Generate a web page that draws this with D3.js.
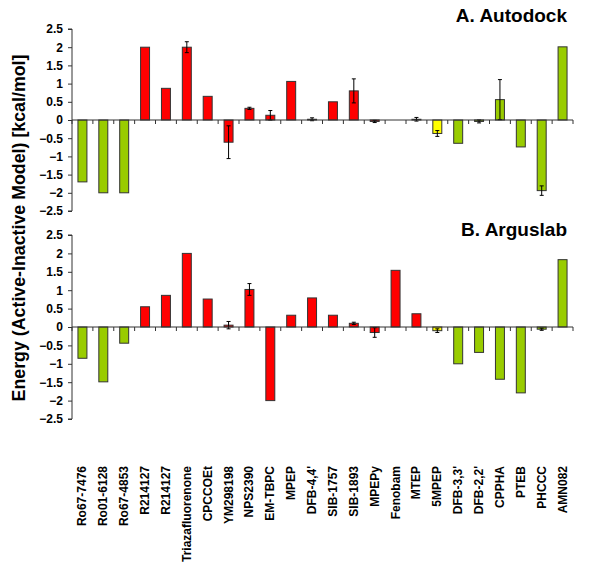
<!DOCTYPE html>
<html><head><meta charset="utf-8">
<script src="https://cdn.jsdelivr.net/npm/d3@7"></script>
<style>body{margin:0;background:#fff}svg{display:block}text{font-family:Arial,"Liberation Sans",sans-serif}</style>
</head><body>
<svg id="c" width="600" height="585"></svg>
<script>
const categories = ["Ro67-7476","Ro01-6128","Ro67-4853","R214127","R214127","Triazafluorenone","CPCCOEt","YM298198","NPS2390","EM-TBPC","MPEP","DFB-4,4'","SIB-1757","SIB-1893","MPEPy","Fenobam","MTEP","5MPEP","DFB-3,3'","DFB-2,2'","CPPHA","PTEB","PHCCC","AMN082"];
const autodock    = [-1.70,-2.0,-2.0,2.0,0.87,2.0,0.65,-0.61,0.32,0.13,1.06,0.02,0.50,0.80,-0.04,0,0.02,-0.37,-0.64,-0.04,0.56,-0.74,-1.94,2.01];
const autodockErr = [0,0,0,0,0,0.15,0,0.45,0.03,0.13,0,0.04,0,0.33,0.03,0,0.05,0.08,0,0.04,0.55,0,0.13,0];
const arguslab    = [-0.85,-1.49,-0.44,0.55,0.86,2.0,0.76,0.05,1.02,-2.0,0.32,0.79,0.32,0.10,-0.15,1.54,0.36,-0.10,-1.0,-0.69,-1.42,-1.79,-0.06,1.83];
const arguslabErr = [0,0,0,0,0,0,0,0.10,0.16,0,0,0,0,0.03,0.13,0,0,0.05,0,0,0,0,0.03,0];
const groups = ["g","g","g","r","r","r","r","r","r","r","r","r","r","r","r","r","r","y","g","g","g","g","g","g"];
const yTicks = [2.5,2,1.5,1,0.5,0,-0.5,-1,-1.5,-2,-2.5];
const colorMap = {g:"#99cc00", r:"#ff0000", y:"#ffff00"};

const svg = d3.select("#c");
const x = d3.scaleBand().domain(d3.range(categories.length)).range([72,573]).padding(0);
const barW = x.bandwidth()*0.43;

function panel(vals, errs, yRange, title, titleY){
  const y = d3.scaleLinear().domain([-2.5,2.5]).range(yRange);
  const g = svg.append("g");
  const ya = g.append("g").attr("transform","translate(72,0)")
    .call(d3.axisLeft(y).tickValues(yTicks).tickSize(4).tickPadding(5).tickFormat(d3.format("")));
  ya.select(".domain").attr("stroke","#333").attr("d",`M-4,${y(2.5)}H0V${y(-2.5)}H-4`);
  ya.selectAll(".tick line").attr("stroke","#333");
  ya.selectAll(".tick text").attr("font-size",12).attr("font-weight","bold").attr("fill","#000")
    .attr("font-family",'Arial,"Liberation Sans",sans-serif');
  const data = vals.map((v,i)=>({v,i,e:errs[i]})).filter(d=>d.v!==0);
  g.selectAll("rect.bar").data(data).join("rect")
    .attr("x",d=>x(d.i)+(x.bandwidth()-barW)/2)
    .attr("y",d=>y(Math.max(0,d.v)))
    .attr("width",barW)
    .attr("height",d=>Math.abs(y(d.v)-y(0)))
    .attr("fill",d=>colorMap[groups[d.i]])
    .attr("stroke","#333").attr("stroke-width",1);
  data.filter(d=>d.e).forEach(d=>{
    const cx = x(d.i)+x.bandwidth()/2;
    g.append("line").attr("x1",cx).attr("x2",cx).attr("y1",y(d.v+d.e)).attr("y2",y(d.v-d.e)).attr("stroke","#000");
    [d.v+d.e,d.v-d.e].forEach(t=>g.append("line").attr("x1",cx-2).attr("x2",cx+2).attr("y1",y(t)).attr("y2",y(t)).attr("stroke","#000"));
  });
  const y0 = y(0);
  g.append("line").attr("x1",72).attr("x2",573).attr("y1",y0).attr("y2",y0).attr("stroke","#333");
  d3.range(categories.length+1).forEach(k=>{
    const xx = k<categories.length ? x(k) : x.range()[1];
    g.append("line").attr("x1",xx).attr("x2",xx).attr("y1",y0).attr("y2",y0+4).attr("stroke","#333");
  });
  g.append("text").attr("x",567).attr("y",titleY).attr("text-anchor","end")
    .attr("font-size",19).attr("font-weight","bold").text(title);
}
panel(autodock, autodockErr, [211,29], "A. Autodock", 22);
panel(arguslab, arguslabErr, [419,235], "B. Arguslab", 236);

svg.append("g").selectAll("text").data(categories).join("text")
  .attr("transform",(d,i)=>`translate(${x(i)+x.bandwidth()/2+4},466) rotate(-90)`)
  .attr("text-anchor","end").attr("font-size",12).attr("font-weight","bold").text(d=>d);

svg.append("text").attr("transform","translate(25,228) rotate(-90)").attr("text-anchor","middle")
  .attr("font-size",17.8).attr("font-weight","bold").text("Energy (Active-Inactive Model) [kcal/mol]");
</script>
</body></html>
